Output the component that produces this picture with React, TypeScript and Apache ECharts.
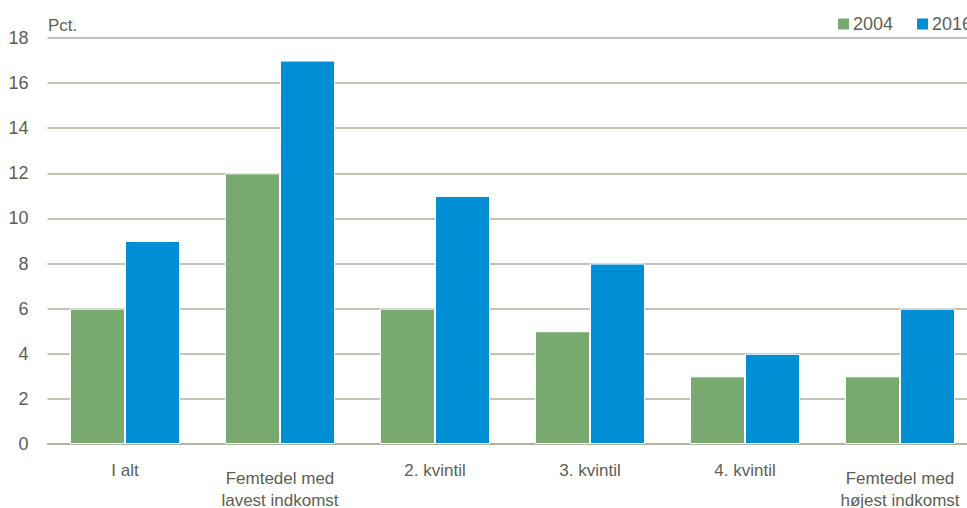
import React, { useEffect, useRef } from "react";
import * as echarts from "echarts";

const categories = ["I alt", "Femtedel med\nlavest indkomst", "2. kvintil", "3. kvintil", "4. kvintil", "Femtedel med\nhøjest indkomst"];
const series2004 = [6, 12, 6, 5, 3, 3];
const series2016 = [9, 17, 11, 8, 4, 6];
const yTicks = { min: 0, max: 18, interval: 2 };

const FONT = "'Liberation Sans', Arial, sans-serif";
const TEXT = "#5e5e55";
const GRID = "#aeae9e";

export default function App() {
  const ref = useRef<HTMLDivElement>(null);
  useEffect(() => {
    const chart = echarts.init(ref.current!, null, { renderer: "svg" });
    chart.setOption({
      animation: false,
      textStyle: { fontFamily: FONT },
      grid: { left: 47.5, right: 12.5, top: 38, bottom: 64, containLabel: false, outerBoundsMode: "none" },
      legend: {
        orient: "horizontal",
        left: 831,
        top: 10,
        width: 400,
        itemWidth: 13,
        itemHeight: 13,
        itemGap: 22,
        icon: "rect",
        textStyle: { fontFamily: FONT, fontSize: 18, color: TEXT, padding: [0, 0, 0, -2] },
        data: ["2004", "2016"],
      },
      graphic: [
        { type: "text", left: 48, top: 17, style: { text: "Pct.", fontFamily: FONT, fontSize: 17, fill: TEXT } },
      ],
      xAxis: {
        type: "category",
        data: categories,
        axisTick: { show: false },
        axisLine: { show: true, lineStyle: { color: GRID, width: 1.5 } },
        axisLabel: {
          interval: 0,
          margin: 23,
          fontFamily: FONT,
          fontSize: 17,
          color: TEXT,
          lineHeight: 22,
          formatter: (v: string) => {
            const parts = v.split("\n");
            if (parts.length === 1) return `{s|${v}}`;
            return v;
          },
          rich: {
            s: { fontFamily: FONT, fontSize: 17, color: TEXT, lineHeight: 6 },
          },
        },
      },
      yAxis: {
        type: "value",
        min: yTicks.min,
        max: yTicks.max,
        interval: yTicks.interval,
        axisLine: { show: false },
        axisTick: { show: false },
        splitLine: { lineStyle: { color: GRID, width: 1.5 } },
        axisLabel: { margin: 19, fontFamily: FONT, fontSize: 18, color: TEXT },
      },
      series: [
        {
          name: "2004",
          type: "bar",
          data: series2004,
          barGap: "0%",
          barCategoryGap: "29%",
          itemStyle: { color: "#78aa70", borderColor: "#ffffff", borderWidth: 1 },
        },
        {
          name: "2016",
          type: "bar",
          data: series2016,
          barGap: "0%",
          barCategoryGap: "29%",
          itemStyle: { color: "#008fd5", borderColor: "#ffffff", borderWidth: 1 },
        },
      ],
    });
    return () => chart.dispose();
  }, []);
  return (
    <div style={{ position: "fixed", left: 0, top: 0, width: 967, height: 508, overflow: "hidden", background: "#fff" }}>
      <div ref={ref} style={{ width: 990, height: 508 }} />
    </div>
  );
}
